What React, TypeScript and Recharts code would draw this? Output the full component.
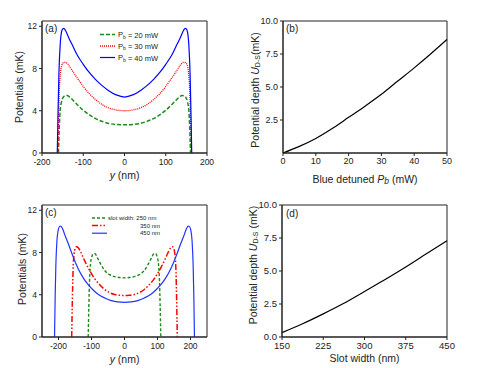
import React from 'react';
import { LineChart, Line, XAxis, YAxis, ReferenceArea, Legend } from 'recharts';

const INK = '#222';
const FONT = '"Liberation Sans", Arial, Helvetica, sans-serif';

// (a) potential across the slot for three blue-detuned powers
const A_X_20 = [-160, -158, -156, -153, -149, -144, -139, -133, -125, -115, -100, -85, -70, -55, -40, -20, 0, 20, 40, 55, 70, 85, 100, 115, 125, 133, 139, 144, 149, 153, 156, 158, 160];
const A_U_20 = [0, 2.5, 4.0, 4.8, 5.25, 5.42, 5.44, 5.3, 5.0, 4.6, 4.05, 3.6, 3.25, 3.0, 2.82, 2.7, 2.67, 2.7, 2.82, 3.0, 3.25, 3.6, 4.05, 4.6, 5.0, 5.3, 5.44, 5.42, 5.25, 4.8, 4.0, 2.5, 0];
const A_X_30 = [-162, -160, -158, -155, -152, -148, -143, -137, -130, -120, -110, -100, -85, -70, -55, -40, -20, 0, 20, 40, 55, 70, 85, 100, 110, 120, 130, 137, 143, 148, 152, 155, 158, 160, 162];
const A_U_30 = [0, 3.5, 6.0, 7.7, 8.3, 8.55, 8.58, 8.4, 8.0, 7.4, 6.85, 6.3, 5.6, 5.05, 4.6, 4.3, 4.07, 4.0, 4.07, 4.3, 4.6, 5.05, 5.6, 6.3, 6.85, 7.4, 8.0, 8.4, 8.58, 8.55, 8.3, 7.7, 6.0, 3.5, 0];
const A_X_40 = [-163, -161, -159, -156, -153, -150, -147, -143, -135, -125, -115, -100, -85, -70, -55, -40, -20, 0, 20, 40, 55, 70, 85, 100, 115, 125, 135, 143, 147, 150, 153, 156, 159, 161, 163];
const A_U_40 = [0, 4.0, 7.5, 10.2, 11.4, 11.75, 11.8, 11.6, 10.9, 10.1, 9.3, 8.4, 7.6, 6.95, 6.4, 5.95, 5.5, 5.3, 5.5, 5.95, 6.4, 6.95, 7.6, 8.4, 9.3, 10.1, 10.9, 11.6, 11.8, 11.75, 11.4, 10.2, 7.5, 4.0, 0];
const A_X_TICKS = [-200, -100, 0, 100, 200];
const A_Y_TICKS = [0, 4, 8, 12];

// (b) trap depth vs blue-detuned power
const B_POWER = [0, 5, 10, 15, 20, 25, 30, 35, 40, 45, 50];
const B_DEPTH = [0, 0.5, 1.1, 1.85, 2.7, 3.55, 4.45, 5.45, 6.45, 7.5, 8.6];
const B_X_TICKS = [0, 10, 20, 30, 40, 50];
const B_Y_TICKS = [2.5, 5, 7.5, 10];

// (c) potential across the slot for three slot widths
const C_X_250 = [-110, -108, -106, -103, -99, -94, -89, -82, -72, -60, -45, -30, -15, 0, 15, 30, 45, 60, 72, 82, 89, 94, 99, 103, 106, 108, 110];
const C_U_250 = [0, 3.0, 5.3, 6.9, 7.6, 7.9, 7.88, 7.5, 6.9, 6.3, 5.9, 5.72, 5.63, 5.6, 5.63, 5.72, 5.9, 6.3, 6.9, 7.5, 7.88, 7.9, 7.6, 6.9, 5.3, 3.0, 0];
const C_X_350 = [-160, -158, -156, -153, -149, -145, -140, -132, -122, -110, -100, -90, -75, -60, -45, -30, -15, 0, 15, 30, 45, 60, 75, 90, 100, 110, 122, 132, 140, 145, 149, 153, 156, 158, 160];
const C_U_350 = [0, 3.5, 6.2, 7.8, 8.4, 8.55, 8.45, 8.0, 7.3, 6.55, 6.0, 5.5, 4.95, 4.5, 4.2, 4.03, 3.95, 3.92, 3.95, 4.03, 4.2, 4.5, 4.95, 5.5, 6.0, 6.55, 7.3, 8.0, 8.45, 8.55, 8.4, 7.8, 6.2, 3.5, 0];
const C_X_450 = [-212, -210, -208, -205, -201, -197, -193, -187, -180, -170, -160, -150, -140, -125, -110, -95, -80, -60, -40, -20, 0, 20, 40, 60, 80, 95, 110, 125, 140, 150, 160, 170, 180, 187, 193, 197, 201, 205, 208, 210, 212];
const C_U_450 = [0, 4.0, 6.8, 9.0, 10.1, 10.45, 10.5, 10.2, 9.6, 8.8, 7.95, 7.15, 6.45, 5.6, 4.95, 4.45, 4.05, 3.7, 3.45, 3.32, 3.28, 3.32, 3.45, 3.7, 4.05, 4.45, 4.95, 5.6, 6.45, 7.15, 7.95, 8.8, 9.6, 10.2, 10.5, 10.45, 10.1, 9.0, 6.8, 4.0, 0];
const C_X_TICKS = [-200, -100, 0, 100, 200];
const C_Y_TICKS = [0, 4, 8, 12];

// (d) trap depth vs slot width
const D_WIDTH = [150, 187.5, 225, 262.5, 300, 337.5, 375, 412.5, 450];
const D_DEPTH = [0.33, 1.0, 1.75, 2.55, 3.45, 4.35, 5.3, 6.3, 7.3];
const D_X_TICKS = [150, 225, 300, 375, 450];
const D_Y_TICKS = [0, 2.5, 5, 7.5, 10];

const zip = (xs: number[], ys: number[]) => xs.map((x, i) => ({ x, y: ys[i] }));

const A_SERIES = [
  { name: '20', xs: A_X_20, ys: A_U_20, color: '#1e8a1e', dash: '4 2', width: 1.5 },
  { name: '30', xs: A_X_30, ys: A_U_30, color: '#ff0000', dash: '1 1', width: 1.3 },
  { name: '40', xs: A_X_40, ys: A_U_40, color: '#0000ff', dash: undefined, width: 1.2 },
];
const C_SERIES = [
  { name: '250', xs: C_X_250, ys: C_U_250, color: '#1e8a1e', dash: '3 2', width: 1.4 },
  { name: '350', xs: C_X_350, ys: C_U_350, color: '#ff0000', dash: '6 2 1.5 2 1.5 2', width: 1.5 },
  { name: '450', xs: C_X_450, ys: C_U_450, color: '#2233ff', dash: undefined, width: 1.2 },
];

const axisLine = { stroke: INK, strokeWidth: 1 };
const tick = (size: number) => ({ fontSize: size, fill: INK });

// axis titles are drawn at fixed spots in the chart's svg
const yTitle = (x: number, y: number, children: React.ReactNode, size = 10.5) => () => (
  <text x={x} y={y} transform={`rotate(-90, ${x}, ${y})`} textAnchor="middle" dominantBaseline="central" fontSize={size} fill={INK}>
    {children}
  </text>
);

const xTitle = (x: number, y: number, children: React.ReactNode, size = 10.5) => () => (
  <text x={x} y={y} textAnchor="middle" dominantBaseline="central" fontSize={size} fill={INK}>
    {children}
  </text>
);

const panelTag: React.CSSProperties = { position: 'absolute', fontSize: 10, color: INK, lineHeight: '12px' };

function legendA() {
  return (
    <svg width={70} height={36}>
      {A_SERIES.map((s, i) => (
        <g key={s.name}>
          <line x1={0} x2={15} y1={6.5 + i * 11.5} y2={6.5 + i * 11.5} stroke={s.color} strokeWidth={s.width} strokeDasharray={s.dash} />
          <text x={18} y={6.5 + i * 11.5} dominantBaseline="central" fontSize={7.5} fill={INK}>
            P<tspan fontSize={5} dy={2}>b</tspan><tspan dy={-2}> = {s.name} mW</tspan>
          </text>
        </g>
      ))}
    </svg>
  );
}

function legendC() {
  return (
    <svg width={70} height={24}>
      {C_SERIES.map((s, i) => (
        <g key={s.name}>
          <line x1={0} x2={15} y1={4 + i * 7.6} y2={4 + i * 7.6} stroke={s.color} strokeWidth={s.width} strokeDasharray={s.dash} />
          {i === 0 ? (
            <text x={16} y={4} dominantBaseline="central" fontSize={6} fill={INK}>slot width: {s.name} nm</text>
          ) : (
            <text x={68} y={4 + i * 7.6} textAnchor="end" dominantBaseline="central" fontSize={6} fill={INK}>{s.name} nm</text>
          )}
        </g>
      ))}
    </svg>
  );
}

export default function App() {
  return (
    <div style={{ position: 'absolute', left: 0, top: 0, width: 481, height: 368, background: '#fff', fontFamily: FONT }}>
      {/* (a) */}
      <div style={{ position: 'absolute', left: 0, top: 0 }}>
        <LineChart width={240} height={185} margin={{ top: 21, right: 33, bottom: 0, left: 0 }}>
          <XAxis dataKey="x" type="number" domain={[-200, 200]} ticks={A_X_TICKS} allowDataOverflow axisLine={axisLine} tickLine={axisLine} tickSize={3} tickMargin={3} tick={tick(8.5)} height={32}
            label={xTitle(124.5, 175, <><tspan fontStyle="italic">y</tspan> (nm)</>)} />
          <YAxis type="number" domain={[0, 12.5]} ticks={A_Y_TICKS} allowDataOverflow axisLine={axisLine} tickLine={axisLine} tickSize={3} tickMargin={2} tick={tick(8.5)} width={42}
            label={yTitle(19, 87, 'Potentials (mK)')} />
          <ReferenceArea x1={-200} x2={200} y1={0} y2={12.5} fill="none" stroke={INK} strokeWidth={1} />
          {A_SERIES.map((s) => (
            <Line key={s.name} data={zip(s.xs, s.ys)} dataKey="y" type="monotone" stroke={s.color} strokeWidth={s.width} strokeDasharray={s.dash} dot={false} isAnimationActive={false} />
          ))}
          <Legend layout="horizontal" verticalAlign="middle" align="center" content={legendA} wrapperStyle={{ left: 100, top: 28, width: 70 }} />
        </LineChart>
        <div style={{ ...panelTag, left: 45, top: 23 }}>(a)</div>
      </div>

      {/* (b) */}
      <div style={{ position: 'absolute', left: 240, top: 0 }}>
        <LineChart width={241} height={185} margin={{ top: 21, right: 34, bottom: 0, left: 0 }}>
          <XAxis dataKey="x" type="number" domain={[0, 50]} ticks={B_X_TICKS} axisLine={axisLine} tickLine={axisLine} tickSize={3} tickMargin={2} tick={tick(9)} height={32}
            label={xTitle(125, 179, <>Blue detuned <tspan fontStyle="italic">P</tspan><tspan fontStyle="italic" fontSize={8.5} dy={2}>b</tspan><tspan dy={-2}> (mW)</tspan></>)} />
          <YAxis type="number" domain={[0, 10]} ticks={B_Y_TICKS} tickFormatter={(v: number) => v.toFixed(1)} axisLine={axisLine} tickLine={axisLine} tickSize={3} tickMargin={2} tick={tick(9)} width={43}
            label={yTitle(15, 90, <>Potential depth <tspan fontStyle="italic">U</tspan><tspan fontSize={7} dy={2}>D-S</tspan><tspan dy={-2}>(mK)</tspan></>)} />
          <ReferenceArea x1={0} x2={50} y1={0} y2={10} fill="none" stroke={INK} strokeWidth={1} />
          <Line data={zip(B_POWER, B_DEPTH)} dataKey="y" type="monotone" stroke="#000" strokeWidth={1.2} dot={false} isAnimationActive={false} />
        </LineChart>
        <div style={{ ...panelTag, left: 46, top: 23 }}>(b)</div>
      </div>

      {/* (c) */}
      <div style={{ position: 'absolute', left: 0, top: 185 }}>
        <LineChart width={240} height={183} margin={{ top: 20, right: 33, bottom: 0, left: 0 }}>
          <XAxis dataKey="x" type="number" domain={[-250, 250]} ticks={C_X_TICKS} allowDataOverflow axisLine={axisLine} tickLine={axisLine} tickSize={3} tickMargin={3} tick={tick(8.5)} height={31}
            label={xTitle(124.5, 174, <><tspan fontStyle="italic">y</tspan> (nm)</>)} />
          <YAxis type="number" domain={[0, 12.5]} ticks={C_Y_TICKS} allowDataOverflow axisLine={axisLine} tickLine={axisLine} tickSize={3} tickMargin={2} tick={tick(8.5)} width={42}
            label={yTitle(22, 84, 'Potentials (mK)')} />
          <ReferenceArea x1={-250} x2={250} y1={0} y2={12.5} fill="none" stroke={INK} strokeWidth={1} />
          {C_SERIES.map((s) => (
            <Line key={s.name} data={zip(s.xs, s.ys)} dataKey="y" type="monotone" stroke={s.color} strokeWidth={s.width} strokeDasharray={s.dash} dot={false} isAnimationActive={false} />
          ))}
          <Legend layout="horizontal" verticalAlign="middle" align="center" content={legendC} wrapperStyle={{ left: 92, top: 29, width: 70 }} />
        </LineChart>
        <div style={{ ...panelTag, left: 45, top: 22 }}>(c)</div>
      </div>

      {/* (d) */}
      <div style={{ position: 'absolute', left: 240, top: 185 }}>
        <LineChart width={241} height={183} margin={{ top: 20, right: 34, bottom: 0, left: 0 }}>
          <XAxis dataKey="x" type="number" domain={[150, 450]} ticks={D_X_TICKS} axisLine={axisLine} tickLine={axisLine} tickSize={3} tickMargin={2} tick={tick(9.5)} height={31}
            label={xTitle(124.5, 173, 'Slot width (nm)')} />
          <YAxis type="number" domain={[0, 10]} ticks={D_Y_TICKS} tickFormatter={(v: number) => v.toFixed(1)} axisLine={axisLine} tickLine={axisLine} tickSize={3} tickMargin={2} tick={tick(9.5)} width={42}
            label={yTitle(13, 80, <>Potential depth <tspan fontStyle="italic">U</tspan><tspan fontSize={7} dy={2}>D-S</tspan><tspan dy={-2}> (mK)</tspan></>)} />
          <ReferenceArea x1={150} x2={450} y1={0} y2={10} fill="none" stroke={INK} strokeWidth={1} />
          <Line data={zip(D_WIDTH, D_DEPTH)} dataKey="y" type="monotone" stroke="#000" strokeWidth={1.2} dot={false} isAnimationActive={false} />
        </LineChart>
        <div style={{ ...panelTag, left: 46, top: 23 }}>(d)</div>
      </div>
    </div>
  );
}
